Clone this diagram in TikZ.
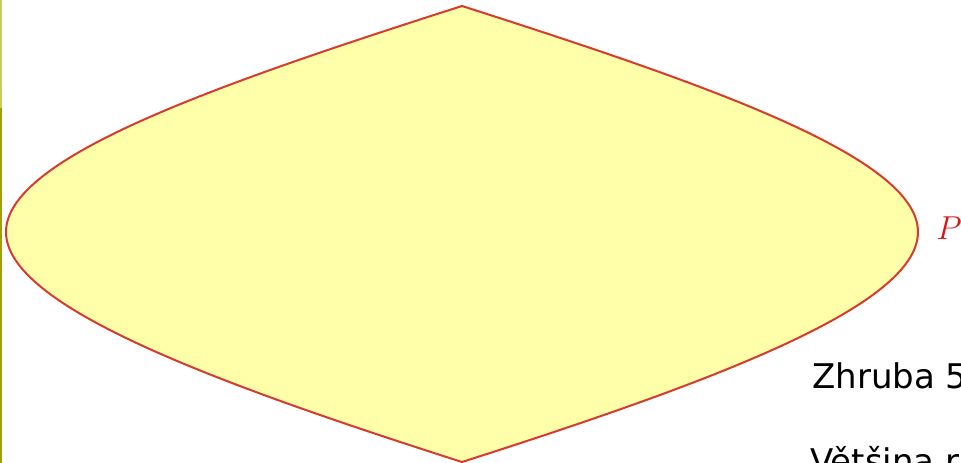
\documentclass[tikz,border=0pt]{standalone}
\usepackage{fontspec}
\newfontfamily\dejavu{DejaVu Sans}
\definecolor{lensfill}{HTML}{FFFFAA}
\definecolor{lensline}{HTML}{D83A2E}
\definecolor{ptextcol}{HTML}{D81818}
\definecolor{barlight}{HTML}{C8CC5A}
\definecolor{bardark}{HTML}{A0A000}
\begin{document}
\begin{tikzpicture}[x=0.75pt,y=-0.75pt,
  lens/.style={fill=lensfill,draw=lensline,line width=1.5pt,line join=round},
  sidetext/.style={font=\dejavu\fontsize{25.5pt}{30pt}\selectfont,text=black,anchor=base west,inner sep=0pt},
  ptext/.style={text=ptextcol,anchor=base west,inner sep=0pt,font=\fontsize{30pt}{36pt}\selectfont}]
\useasboundingbox (0,0) rectangle (961,463);
\fill[barlight] (0,0) rectangle (2,108);
\fill[bardark] (0,108) rectangle (2,463);
\coordinate (top) at (462,6);
\coordinate (right) at (918,232);
\coordinate (bottom) at (462,462);
\coordinate (left) at (6,232);
\draw[lens] (top) .. controls (712,86) and (918,158) .. (right)
  .. controls (918,306) and (712,382) .. (bottom)
  .. controls (212,382) and (6,306) .. (left)
  .. controls (6,158) and (212,86) .. (top) -- cycle;
\node[ptext] (p) at (936,240) {$P$};
\node[sidetext] (z) at (812,388) {Zhruba 5};
\node[sidetext] (v) at (810,473) {Většina r};
\end{tikzpicture}
\end{document}
